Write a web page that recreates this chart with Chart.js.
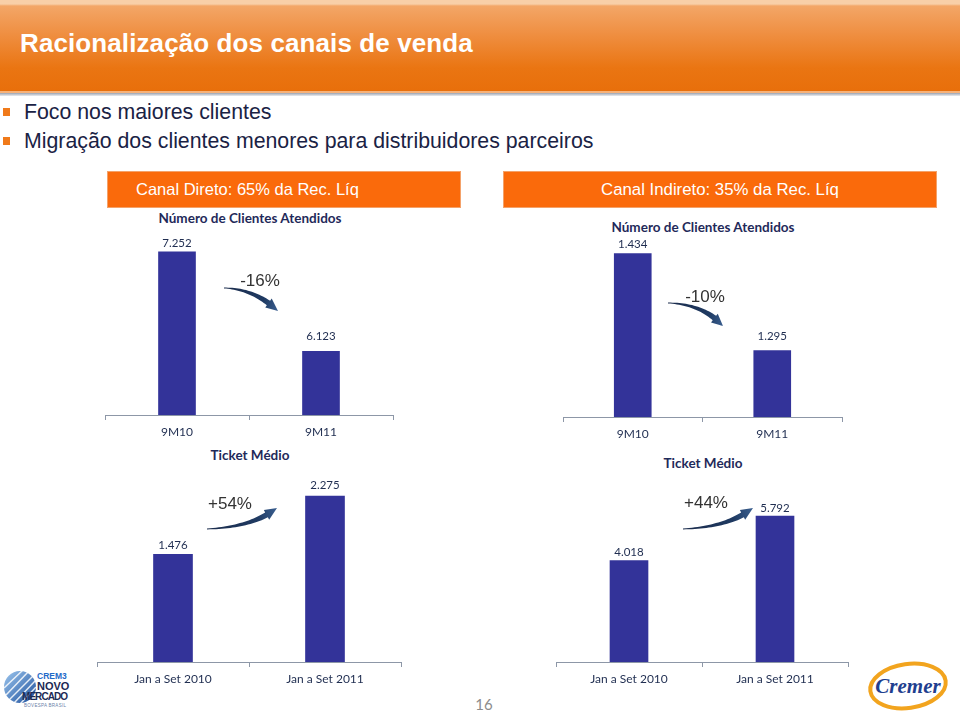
<!DOCTYPE html>
<html>
<head>
<meta charset="utf-8">
<script src="https://cdn.jsdelivr.net/npm/chart.js@4.4.1/dist/chart.umd.min.js"></script>
<style>
  body { margin: 0; width: 960px; height: 717px; position: relative; background: #fff; overflow: hidden; font-family: "Liberation Sans", Arial, sans-serif; }
  .abs { position: absolute; }
  #header { left: 0; top: 0; width: 960px; height: 91px;
    background: linear-gradient(#f8cfa8 0, #f8cfa8 4px, #f3a667 6px, #ef8e40 35px, #ea7512 68px, #e86f0b 91px); }
  #header h1 { position: absolute; left: 20px; top: 28px; margin: 0; font-size: 26px; font-weight: bold; color: #fff; letter-spacing: 0.1px; }
  #hline1 { left: 0; top: 91px; width: 960px; height: 2px; background: #f6b27a; }
  #hline2 { left: 0; top: 93px; width: 960px; height: 3px; background: linear-gradient(#9aa2b0, #e9ebef); }
  .bullet { left: 24px; font-size: 21.3px; color: #1a2244; }
  .sq { left: 3px; width: 7px; height: 8px; background: #f07a1a; }
  .box { top: 171px; height: 37px; background: #fa6a0b; border: 1px solid #f4a26a; box-sizing: border-box; color: #fff; font-size: 16.5px; line-height: 35px; }
  .ttl { font-family: Lato, sans-serif; font-weight: bold; font-size: 13.5px; color: #1f2a5a; text-align: center; width: 240px; line-height: 16px; }
  canvas { position: absolute; }
</style>
</head>
<body>
<div id="header" class="abs"><h1>Racionalização dos canais de venda</h1></div>
<div id="hline1" class="abs"></div>
<div id="hline2" class="abs"></div>

<div class="abs sq" style="top:108px"></div>
<div class="abs bullet" style="top:100px">Foco nos maiores clientes</div>
<div class="abs sq" style="top:137px"></div>
<div class="abs bullet" style="top:129px">Migração dos clientes menores para distribuidores parceiros</div>

<div class="abs box" style="left:107px;width:354px;padding-left:28px">Canal Direto: 65% da Rec. Líq</div>
<div class="abs box" style="left:503px;width:434px;text-align:center;font-size:16.8px">Canal Indireto: 35% da Rec. Líq</div>

<div class="abs ttl" style="left:130px;top:210px">Número de Clientes Atendidos</div>
<div class="abs ttl" style="left:583px;top:219px">Número de Clientes Atendidos</div>
<div class="abs ttl" style="left:130px;top:447px">Ticket Médio</div>
<div class="abs ttl" style="left:583px;top:455px">Ticket Médio</div>

<canvas id="c1" width="292" height="235" style="left:103px;top:210px"></canvas>
<canvas id="c2" width="283" height="235" style="left:561px;top:212px"></canvas>
<canvas id="c3" width="308" height="235" style="left:95px;top:457px"></canvas>
<canvas id="c4" width="296" height="235" style="left:554px;top:457px"></canvas>

<div class="abs" style="left:464px;top:695px;width:40px;text-align:center;font-family:Lato,sans-serif;font-size:15px;color:#8c8c8c">16</div>

<svg class="abs" style="left:0;top:658px" width="80" height="59">
  <defs>
    <linearGradient id="gl" x1="0" y1="0" x2="1" y2="1">
      <stop offset="0" stop-color="#9cc6ee"/><stop offset="1" stop-color="#1d4f9c"/>
    </linearGradient>
  </defs>
  <circle cx="20" cy="29" r="16" fill="url(#gl)"/>
  <g stroke="#fff" stroke-width="1.5" opacity="0.85">
    <line x1="6" y1="37" x2="29" y2="13"/><line x1="9" y1="42" x2="34" y2="17"/>
    <line x1="14" y1="45" x2="36" y2="22"/><line x1="20" y1="46" x2="36" y2="29"/>
    <line x1="4" y1="30" x2="23" y2="12"/>
  </g>
  <text x="37" y="21" font-family="Liberation Sans" font-weight="bold" font-size="8.5" fill="#1e6ac8">CREM3</text>
  <text x="37" y="32" font-family="Liberation Sans" font-weight="bold" font-size="11" fill="#1c2a55">NOVO</text>
  <text x="22" y="42" font-family="Liberation Sans" font-weight="bold" font-size="10" fill="#1c2a55" textLength="46">MERCADO</text>
  <text x="24" y="49" font-family="Liberation Sans" font-size="4.5" fill="#6a7fa8" textLength="42">BOVESPA BRASIL</text>
</svg>

<svg class="abs" style="left:864px;top:656px" width="96" height="58">
  <ellipse cx="44" cy="30" rx="38" ry="22" fill="none" stroke="#f2a41e" stroke-width="4" transform="rotate(-8 44 30)"/>
  <text x="44" y="37" text-anchor="middle" font-family="Liberation Serif" font-style="italic" font-weight="bold" font-size="21" fill="#1f3f8f">Cremer</text>
</svg>

<script>
// dados
const periodosClientes = ['9M10', '9M11'];
const periodosTicket = ['Jan a Set 2010', 'Jan a Set 2011'];
const clientesDireto = [7252, 6123];
const clientesIndireto = [1434, 1295];
const ticketDireto = [1476, 2275];
const ticketIndireto = [4018, 5792];
const variacoes = ['-16%', '-10%', '+54%', '+44%'];

const fmt = v => String(v).replace(/\B(?=(\d{3})+(?!\d))/g, '.');

function drawArrow(ctx, x0, y0, cx, cy, x1, y1) {
  const pt = t => [(1 - t) * (1 - t) * x0 + 2 * (1 - t) * t * cx + t * t * x1,
                   (1 - t) * (1 - t) * y0 + 2 * (1 - t) * t * cy + t * t * y1];
  const tan = t => {
    const dx = 2 * (1 - t) * (cx - x0) + 2 * t * (x1 - cx);
    const dy = 2 * (1 - t) * (cy - y0) + 2 * t * (y1 - cy);
    const l = Math.hypot(dx, dy);
    return [dx / l, dy / l];
  };
  const tb = 0.8;
  const up = [], dn = [];
  for (let i = 0; i <= 24; i++) {
    const t = tb * i / 24;
    const [px, py] = pt(t);
    const [tx, ty] = tan(t);
    const w = 0.4 + 2.4 * (t / tb);
    up.push([px - ty * w, py + tx * w]);
    dn.push([px + ty * w, py - tx * w]);
  }
  const [hx, hy] = pt(tb);
  const [tx, ty] = tan(tb);
  const hw = 5.5;
  ctx.beginPath();
  ctx.moveTo(up[0][0], up[0][1]);
  up.forEach(p => ctx.lineTo(p[0], p[1]));
  ctx.lineTo(hx - ty * hw, hy + tx * hw);
  ctx.lineTo(x1, y1);
  ctx.lineTo(hx + ty * hw, hy - tx * hw);
  for (let i = dn.length - 1; i >= 0; i--) ctx.lineTo(dn[i][0], dn[i][1]);
  ctx.closePath();
  const g = ctx.createLinearGradient(x0, y0, x1, y1);
  g.addColorStop(0, '#1b2c4c');
  g.addColorStop(0.7, '#1f3a62');
  g.addColorStop(1, '#3a5f90');
  ctx.fillStyle = g;
  ctx.fill();
}

const marcas = {
  id: 'marcas',
  afterDatasetsDraw(chart, args, opts) {
    const ctx = chart.ctx;
    const a = chart.chartArea;
    const meta = chart.getDatasetMeta(0);
    const vals = chart.data.datasets[0].data;
    ctx.save();
    ctx.font = '11.5px Lato';
    ctx.fillStyle = '#1f2d50';
    ctx.textAlign = 'center';
    ctx.textBaseline = 'middle';
    meta.data.forEach((bar, i) => ctx.fillText(fmt(vals[i]), bar.x, bar.y - opts.gap[i]));
    const s = opts.seta;
    drawArrow(ctx, a.left + s.de[0], a.top + s.de[1], a.left + s.ctrl[0], a.top + s.ctrl[1],
              a.left + s.para[0], a.top + s.para[1]);
    ctx.font = '17px "Liberation Sans"';
    ctx.fillStyle = '#333';
    ctx.fillText(opts.texto, a.left + s.txt[0], a.top + s.txt[1]);
    ctx.restore();
  }
};

function grafico(id, labels, values, o) {
  return new Chart(document.getElementById(id), {
    type: 'bar',
    data: { labels, datasets: [{ data: values, backgroundColor: '#333399', barThickness: o.barra }] },
    options: {
      responsive: false,
      animation: false,
      layout: { padding: { left: 2, right: 2, top: 20, bottom: 0 } },
      plugins: {
        legend: { display: false },
        tooltip: { enabled: false },
        marcas: { gap: o.gap, seta: o.seta, texto: o.texto }
      },
      scales: {
        x: {
          grid: { drawOnChartArea: false, drawTicks: true, tickLength: 5, color: '#8d97a7' },
          border: { color: '#8d97a7', width: 1 },
          ticks: { color: '#1f2d50', font: { family: 'Lato', size: 12 }, padding: 5, maxRotation: 0 },
          afterFit: s => { s.height = 30; }
        },
        y: { display: false, min: o.min, max: o.max }
      }
    },
    plugins: [marcas]
  });
}

grafico('c1', periodosClientes, clientesDireto, {
  barra: 37, min: 5400, max: 7500, gap: [9, 15], texto: variacoes[0],
  seta: { de: [119, 58], ctrl: [150, 59], para: [173, 81], txt: [155, 51] }
});
grafico('c2', periodosClientes, clientesIndireto, {
  barra: 37, min: 1200, max: 1465, gap: [9, 14], texto: variacoes[1],
  seta: { de: [105, 71], ctrl: [140, 72], para: [160, 94], txt: [142, 65] }
});
grafico('c3', periodosTicket, ticketDireto, {
  barra: 39, min: 0, max: 2535, gap: [9, 11], texto: variacoes[2],
  seta: { de: [110, 52], ctrl: [156, 50], para: [180, 31], txt: [133, 27] }
});
grafico('c4', periodosTicket, ticketIndireto, {
  barra: 38, min: 0, max: 7338, gap: [8, 8], texto: variacoes[3],
  seta: { de: [127, 52], ctrl: [173, 50], para: [197, 31], txt: [150, 26] }
});
</script>
</body>
</html>
